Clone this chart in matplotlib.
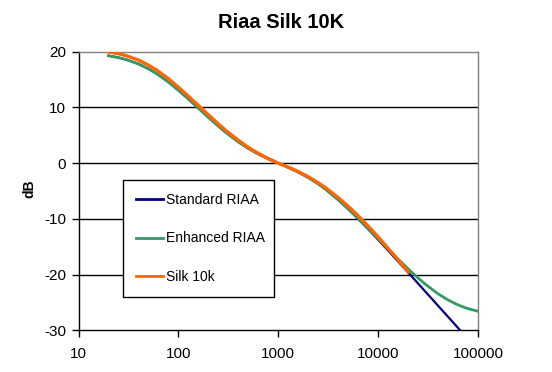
import matplotlib
matplotlib.use("Agg")
import matplotlib.pyplot as plt
from matplotlib.ticker import FixedLocator, FixedFormatter, NullLocator

plt.rcParams['font.family'] = ['Liberation Sans', 'DejaVu Sans']

# ---- data ----
freq_std = [20, 25, 30, 40, 50, 60, 70, 80, 100, 120, 150, 200, 250, 300, 400, 500,
            600, 700, 800, 1000, 1200, 1500, 2000, 2500, 3000, 4000, 5000, 6000, 7000,
            8000, 10000, 12000, 15000, 20000, 25000, 30000, 40000, 50000, 60000, 70000]
db_std = [19.27, 18.95, 18.59, 17.79, 16.95, 16.10, 15.28, 14.51, 13.09, 11.85, 10.27,
          8.22, 6.68, 5.49, 3.79, 2.65, 1.84, 1.24, 0.75, 0.0, -0.61, -1.40, -2.59,
          -3.70, -4.74, -6.61, -8.21, -9.60, -10.82, -11.89, -13.73, -15.26, -17.16,
          -19.62, -21.54, -23.12, -25.61, -27.54, -29.12, -30.46]

freq_enh = [20, 25, 30, 40, 50, 60, 70, 80, 100, 120, 150, 200, 250, 300, 400, 500,
            600, 700, 800, 1000, 1200, 1500, 2000, 2500, 3000, 4000, 5000, 6000, 7000,
            8000, 10000, 12000, 15000, 20000, 25000, 30000, 40000, 50000, 60000, 70000,
            80000, 100000]
db_enh = [19.27, 18.95, 18.59, 17.79, 16.95, 16.10, 15.28, 14.51, 13.09, 11.85, 10.27,
          8.22, 6.68, 5.49, 3.79, 2.65, 1.84, 1.24, 0.75, 0.0, -0.61, -1.40, -2.58,
          -3.69, -4.72, -6.59, -8.17, -9.54, -10.74, -11.78, -13.56, -15.02, -16.79,
          -18.98, -20.57, -21.78, -23.46, -24.53, -25.25, -25.75, -26.11, -26.57]

freq_silk = [20, 25, 30, 40, 50, 60, 70, 80, 100, 120, 150, 200, 250, 300, 400, 500,
             600, 700, 800, 1000, 1200, 1500, 2000, 2500, 3000, 4000, 5000, 6000, 7000,
             8000, 10000, 12000, 15000, 20000]
db_silk = [19.97, 19.65, 19.29, 18.49, 17.60, 16.75, 15.88, 15.11, 13.64, 12.35, 10.77,
           8.67, 7.08, 5.84, 4.09, 2.85, 1.99, 1.34, 0.80, 0.0, -0.56, -1.30, -2.44,
           -3.50, -4.44, -6.21, -7.71, -9.05, -10.27, -11.34, -13.23, -14.86, -16.86,
           -19.52]

x_ticks = [10, 100, 1000, 10000, 100000]
x_labels = ["10", "100", "1000", "10000", "100000"]
y_ticks = [-30, -20, -10, 0, 10, 20]
y_labels = ["-30", "-20", "-10", "0", "10", "20"]

title = "Riaa Silk 10K"
series_names = ["Standard RIAA", "Enhanced RIAA", "Silk 10k"]
colors = ["#000080", "#339966", "#FF6600"]

# ---- figure ----
W, H = 552, 372
fig = plt.figure(figsize=(W / 100, H / 100), dpi=100)
ax = fig.add_axes([78.5 / W, 1 - 330.4 / H, (478 - 78.5) / W, (330.4 - 51.7) / H])

ax.plot(freq_std, db_std, color=colors[0], lw=1.6, label=series_names[0], zorder=3)
ax.plot(freq_enh, db_enh, color=colors[1], lw=2.0, label=series_names[1], zorder=4)
ax.plot(freq_silk, db_silk, color=colors[2], lw=2.4, label=series_names[2], zorder=5)

ax.set_xscale('log')
ax.set_xlim(10, 100000)
ax.set_ylim(-30, 20)
ax.xaxis.set_major_locator(FixedLocator(x_ticks))
ax.xaxis.set_major_formatter(FixedFormatter(x_labels))
ax.xaxis.set_minor_locator(NullLocator())
ax.set_yticks(y_ticks)
ax.set_yticklabels(y_labels)

for v in [-20, -10, 0, 10]:
    ax.axhline(v, color='black', lw=1.0, zorder=1)

ax.spines['top'].set_color('#808080')
ax.spines['right'].set_color('#808080')
ax.spines['left'].set_color('black')
ax.spines['bottom'].set_color('black')
for s in ax.spines.values():
    s.set_linewidth(1.0)

ax.tick_params(axis='x', direction='out', length=5, width=1, color='black',
               labelsize=11, pad=7)
ax.tick_params(axis='y', direction='out', length=5, width=1, color='black',
               labelsize=11, pad=4)

ax.set_ylabel("dB", fontsize=10, fontweight='bold')
ax.yaxis.set_label_coords(-0.105, 0.51)
fig.text(0.51, 1 - 22 / H, title, ha='center', va='center', fontsize=14.5,
         fontweight='bold')

x0 = (122.7 - 78.5) / (478 - 78.5)
x1 = (274.3 - 78.5) / (478 - 78.5)
ytop = (330.4 - 180) / (330.4 - 51.7)
leg = ax.legend(loc='upper left', bbox_to_anchor=(x0, ytop - 0.5, x1 - x0, 0.5),
                mode='expand', fontsize=10, frameon=True, fancybox=False,
                edgecolor='black', framealpha=1, borderpad=0.95, labelspacing=1.75,
                handlelength=1.95, handletextpad=0.25, borderaxespad=0)
leg.get_frame().set_linewidth(1.0)
for line in leg.get_lines():
    line.set_linewidth(2.0)

fig.savefig("out.png", dpi=100)
